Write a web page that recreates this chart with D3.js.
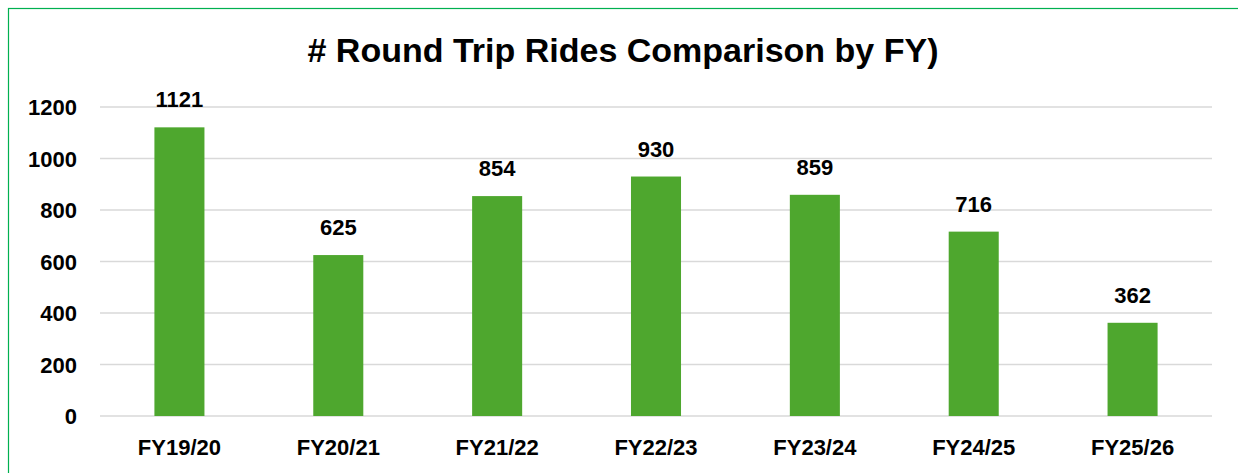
<!DOCTYPE html>
<html>
<head>
<meta charset="utf-8">
<script src="https://cdn.jsdelivr.net/npm/d3@7"></script>
<style>
  body { margin: 0; background: #fff; }
  svg { display: block; font-family: "Liberation Sans", Arial, sans-serif; }
</style>
</head>
<body>
<svg id="chart" width="1238" height="473"></svg>
<script>
// chart data
const years = ["FY19/20", "FY20/21", "FY21/22", "FY22/23", "FY23/24", "FY24/25", "FY25/26"];
const rides = [1121, 625, 854, 930, 859, 716, 362];
const yTicks = [0, 200, 400, 600, 800, 1000, 1200];

const width = 1238, height = 473;
const margin = { left: 100, right: 26, top: 107, bottom: 57 };

const svg = d3.select("#chart");

// outer border (only top/left visible in picture)
svg.append("rect")
  .attr("x", 8.5).attr("y", 8.5)
  .attr("width", 1300).attr("height", 600)
  .attr("fill", "none")
  .attr("stroke", "#00b050")
  .attr("stroke-width", 1.2);

svg.append("text")
  .attr("x", 623).attr("y", 62)
  .attr("text-anchor", "middle")
  .attr("font-size", 34)
  .attr("font-weight", "bold")
  .attr("fill", "#000")
  .text("# Round Trip Rides Comparison by FY)");

const x = d3.scaleBand()
  .domain(years)
  .range([margin.left, width - margin.right])
  .paddingInner(0.685)
  .paddingOuter(0.3425);

const y = d3.scaleLinear()
  .domain([0, 1200])
  .range([height - margin.bottom, margin.top]);

// gridlines
svg.append("g")
  .selectAll("line")
  .data(yTicks)
  .join("line")
  .attr("x1", margin.left)
  .attr("x2", width - margin.right)
  .attr("y1", d => y(d))
  .attr("y2", d => y(d))
  .attr("stroke", "#d9d9d9")
  .attr("stroke-width", 1.5);

// y axis labels
const yAxis = d3.axisLeft(y).tickValues(yTicks).tickFormat(d3.format("d")).tickSize(0).tickPadding(0);
const gy = svg.append("g")
  .attr("transform", `translate(${margin.left - 23},0)`)
  .call(yAxis);
gy.select(".domain").remove();
gy.selectAll("text")
  .attr("font-size", 22)
  .attr("font-weight", "bold")
  .attr("fill", "#000")
  .attr("font-family", "Liberation Sans, Arial, sans-serif")
  .attr("dy", "0.36em");

// bars
svg.append("g")
  .selectAll("rect")
  .data(rides)
  .join("rect")
  .attr("x", (d, i) => x(years[i]))
  .attr("y", d => y(d))
  .attr("width", x.bandwidth())
  .attr("height", d => y(0) - y(d))
  .attr("fill", "#4ea72e");

// value labels
svg.append("g")
  .selectAll("text")
  .data(rides)
  .join("text")
  .attr("x", (d, i) => x(years[i]) + x.bandwidth() / 2)
  .attr("y", d => y(d) - 20)
  .attr("text-anchor", "middle")
  .attr("font-size", 22)
  .attr("font-weight", "bold")
  .attr("fill", "#000")
  .text(d => d);

// x axis labels
const xAxis = d3.axisBottom(x).tickSize(0).tickPadding(0);
const gx = svg.append("g")
  .attr("transform", `translate(0,${y(0)})`)
  .call(xAxis);
gx.select(".domain").remove();
gx.selectAll("text")
  .attr("font-size", 22)
  .attr("font-weight", "bold")
  .attr("fill", "#000")
  .attr("font-family", "Liberation Sans, Arial, sans-serif")
  .attr("dy", null)
  .attr("y", 38.5);
</script>
</body>
</html>
